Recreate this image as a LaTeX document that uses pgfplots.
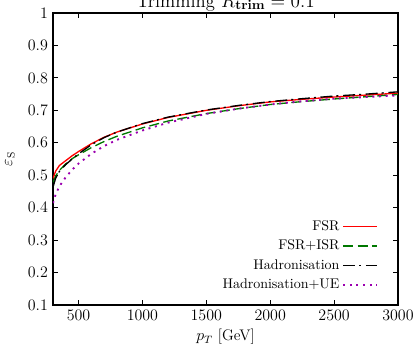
\documentclass[border=0pt,11pt]{standalone}
\usepackage{pgfplots}
\pgfplotsset{compat=1.18}
\usetikzlibrary{calc}
\definecolor{gpgreen}{RGB}{0,120,0}
\definecolor{gppurple}{RGB}{155,0,175}
\begin{document}
\begin{tikzpicture}
\begin{axis}[
  scale only axis,
  width=258.75pt, height=219pt,
  xmin=300, xmax=3000, ymin=0.1, ymax=1,
  xtick={500,1000,1500,2000,2500,3000},
  ytick={0.1,0.2,0.3,0.4,0.5,0.6,0.7,0.8,0.9,1},
  tick align=inside, tick pos=both,
  major tick length=4pt,
  axis line style={line width=0.9pt},
  every tick/.style={line width=0.6pt, black},
  tick label style={font=\fontsize{11.5}{13}\selectfont},
  /pgf/number format/1000 sep={},
  yticklabel style={/pgf/number format/fixed},
  xlabel={$p_T$ [GeV]},
  ylabel={$\varepsilon_{\mathrm{S}}$},
  label style={font=\fontsize{11.5}{13}\selectfont},
  xlabel style={yshift=1pt},
  ylabel style={yshift=2.5pt},
  title={Trimming $R_{\mathbf{trim}}=0.1$},
  every axis title/.style={overlay, font=\fontsize{14}{16}\selectfont, at={(0.5,1)}, anchor=base, yshift=4.5pt, inner sep=0pt},
  legend style={draw=none, fill=none, at={(0.955,0.03)}, anchor=south east, font=\fontsize{10.5}{12}\selectfont, row sep=1.5pt},
  legend cell align=right,
  legend plot pos=right,
  legend image code/.code={\draw[#1] (0.25cm,0cm) -- (1.15cm,0cm);},
]
\addplot[red, line width=1pt] coordinates {
(300,0.490) (320,0.512) (350,0.530) (400,0.545) (450,0.560) (500,0.573) (600,0.597) (700,0.617) (800,0.633) (1000,0.658) (1200,0.678) (1500,0.700) (1750,0.714) (2000,0.726) (2250,0.734) (2500,0.741) (2750,0.747) (3000,0.753)};
\addlegendentry{FSR}
\addplot[gpgreen, line width=1pt, dash pattern=on 7.5pt off 3.3pt] coordinates {
(300,0.478) (320,0.497) (350,0.515) (400,0.535) (450,0.551) (500,0.563) (600,0.585) (700,0.604) (800,0.620) (1000,0.646) (1200,0.667) (1500,0.690) (1750,0.705) (2000,0.718) (2250,0.727) (2500,0.735) (2750,0.742) (3000,0.749)};
\addlegendentry{FSR+ISR}
\addplot[black, line width=1pt, dash pattern=on 9pt off 3pt on 1.5pt off 3.5pt] coordinates {
(300,0.463) (320,0.490) (350,0.512) (400,0.533) (450,0.550) (500,0.566) (600,0.594) (700,0.616) (800,0.633) (1000,0.659) (1200,0.679) (1500,0.701) (1750,0.715) (2000,0.727) (2250,0.736) (2500,0.744) (2750,0.750) (3000,0.757)};
\addlegendentry{Hadronisation}
\addplot[gppurple, line width=1.4pt, dash pattern=on 1.5pt off 3.5pt] coordinates {
(300,0.414) (320,0.440) (350,0.466) (400,0.494) (450,0.517) (500,0.536) (600,0.566) (700,0.590) (800,0.609) (1000,0.638) (1200,0.662) (1500,0.689) (1750,0.705) (2000,0.718) (2250,0.728) (2500,0.736) (2750,0.741) (3000,0.746)};
\addlegendentry{Hadronisation+UE}
\end{axis}
\pgfresetboundingbox
\path ($(current axis.south west)+(-39.75pt,-31.5pt)$) rectangle ($(current axis.north east)+(12.75pt,9.75pt)$);
\end{tikzpicture}
\end{document}
